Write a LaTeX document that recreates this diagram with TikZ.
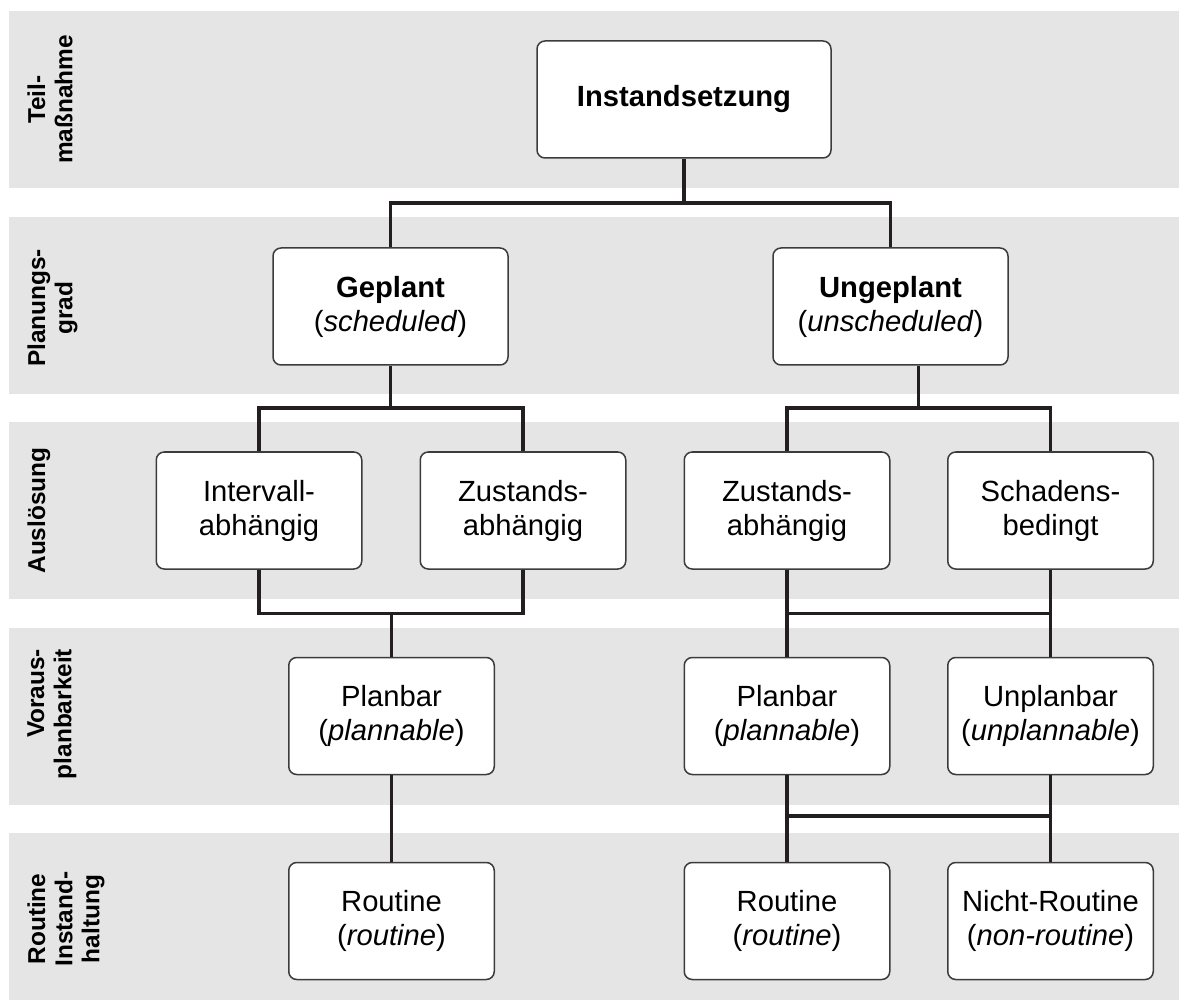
\documentclass[tikz,border=0pt]{standalone}
\usepackage{fontspec}
\setmainfont{Liberation Sans}
\usetikzlibrary{calc}
\definecolor{band}{HTML}{E5E5E5}
\definecolor{ink}{HTML}{231F20}
\definecolor{frame}{HTML}{3C3C3C}
\begin{document}
\begin{tikzpicture}[x=0.5pt,y=-0.5pt,
  box/.style={draw=frame, line width=0.75pt, fill=white, rounded corners=4pt,
    minimum width=102.75pt, minimum height=58.5pt, align=center, inner sep=0pt,
    font=\fontsize{14.6}{17}\selectfont},
  widebox/.style={box, minimum width=117.5pt},
  link/.style={draw=ink, line width=1.6pt, line join=miter},
  lane/.style={fill=band, draw=none},
  lanelabel/.style={rotate=90, anchor=north, align=center, inner sep=0pt,
    font=\bfseries\fontsize{12.2}{13.6}\selectfont},
]
% page frame
\path[use as bounding box] (0,0) rectangle (1179,1000);

% horizontal lanes
\fill[lane] (9,11)  rectangle (1179,188);
\fill[lane] (9,217) rectangle (1179,394);
\fill[lane] (9,422) rectangle (1179,599);
\fill[lane] (9,628) rectangle (1179,805);
\fill[lane] (9,833) rectangle (1179,1000);

% lane captions
\node[lanelabel] (l1) at (27,99.5)  {Teil-\\maßnahme};
\node[lanelabel] (l2) at (27,308)   {Planungs-\\grad};
\node[lanelabel] (l3) at (27,510.5) {Auslösung};
\node[lanelabel, align=right] (l4) at (27,714) {Voraus-\\planbarkeit};
\node[lanelabel] (l5) at (27,919)   {Routine\\Instand-\\haltung};

% boxes
\node[box, minimum width=147pt] (inst) at (684,99.5) {\textbf{Instandsetzung}};
\node[widebox] (gep)   at (390.5,306.5) {\textbf{Geplant}\\(\textit{scheduled})};
\node[widebox] (ungep) at (890.5,306.5) {\textbf{Ungeplant}\\(\textit{unscheduled})};

\node[box] (intv)  at (259,510.5)    {Intervall-\\abhängig};
\node[box] (zust1) at (523,510.5)    {Zustands-\\abhängig};
\node[box] (zust2) at (787,510.5)    {Zustands-\\abhängig};
\node[box] (schad) at (1050.5,510.5) {Schadens-\\bedingt};

\node[box] (plan1)  at (391.5,716)  {Planbar\\(\textit{plannable})};
\node[box] (plan2)  at (787,716)    {Planbar\\(\textit{plannable})};
\node[box] (unplan) at (1050.5,716) {Unplanbar\\(\textit{unplannable})};

\node[box] (rout1) at (391.5,921)  {Routine\\(\textit{routine})};
\node[box] (rout2) at (787,921)    {Routine\\(\textit{routine})};
\node[box] (nrout) at (1050.5,921) {Nicht-Routine\\(\textit{non-routine})};

% bus levels
\coordinate (busA) at (0,203);
\coordinate (busB) at (0,408);
\coordinate (busC) at (0,613.5);
\coordinate (busD) at (0,816);
\coordinate (ujoin) at ($(zust2.north)!0.5!(schad.north)$);

% connectors
\draw[link] (inst.south) -- (inst.south |- busA);
\draw[link] (gep.north) |- (ungep.north |- busA) -- (ungep.north);

\draw[link] (gep.south) -- (gep.south |- busB);
\draw[link] (intv.north) |- (zust1.north |- busB) -- (zust1.north);
\draw[link] (ungep.south -| ujoin) -- (ujoin |- busB);
\draw[link] (zust2.north) |- (schad.north |- busB) -- (schad.north);

\draw[link] (intv.south) |- (zust1.south |- busC) -- (zust1.south);
\draw[link] (plan1.north) -- (plan1.north |- busC);
\draw[link] (zust2.south) -- (plan2.north);
\draw[link] (schad.south) -- (unplan.north);
\draw[link] (zust2.south |- busC) -- (schad.south |- busC);

\draw[link] (plan1.south) -- (rout1.north);
\draw[link] (plan2.south) -- (rout2.north);
\draw[link] (unplan.south) -- (nrout.north);
\draw[link] (plan2.south |- busD) -- (unplan.south |- busD);
\end{tikzpicture}
\end{document}
